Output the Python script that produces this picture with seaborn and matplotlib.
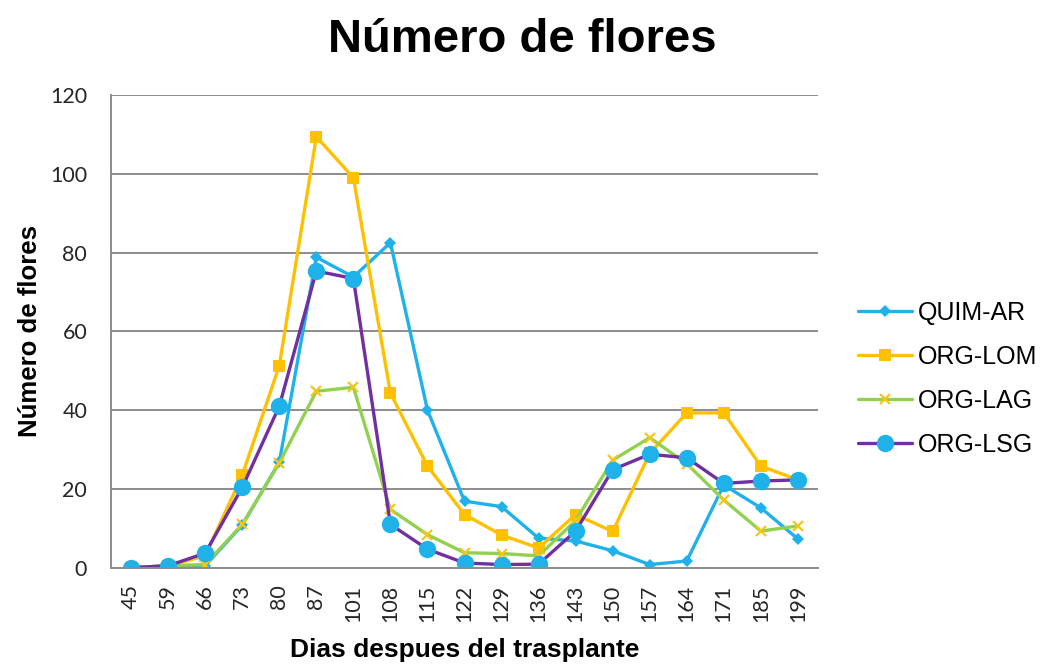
import matplotlib
matplotlib.use("Agg")
import matplotlib.pyplot as plt
import seaborn as sns
import pandas as pd

# Days after transplant (categorical x axis)
dias = ["45", "59", "66", "73", "80", "87", "101", "108", "115", "122",
        "129", "136", "143", "150", "157", "164", "171", "185", "199"]

quim_ar = [0, 0.5, 0.5, 10.8, 26.8, 78.8, 73.8, 82.5, 40, 16.9,
           15.5, 7.5, 6.8, 4.3, 0.8, 1.7, 21, 15.2, 7.3]
org_lom = [0, 0.5, 3, 23.5, 51.3, 109.4, 99, 44.3, 25.8, 13.5,
           8.3, 5, 13.5, 9.2, 29, 39.3, 39.3, 25.8, 22.3]
org_lag = [0, 0.5, 0.8, 11, 26.6, 44.8, 45.8, 14.8, 8.4, 3.8,
           3.6, 3, 12, 27.3, 33, 26.4, 17.2, 9.3, 10.6]
org_lsg = [0, 0.5, 3.7, 20.4, 41, 75.3, 73.4, 11, 4.7, 1.2,
           0.8, 0.9, 9.3, 24.9, 28.8, 27.9, 21.4, 22, 22.3]

df = pd.DataFrame({"dia": dias, "QUIM-AR": quim_ar, "ORG-LOM": org_lom,
                   "ORG-LAG": org_lag, "ORG-LSG": org_lsg})

sns.set_style("white")
plt.rcParams["font.family"] = ["Liberation Sans", "DejaVu Sans"]
plt.rcParams["text.color"] = "black"
plt.rcParams["axes.labelcolor"] = "black"

fig = plt.figure(figsize=(10.45, 6.64), dpi=100)
ax = fig.add_axes([0.106, 0.145, 0.677, 0.712])

lw = 2.4
sns.lineplot(data=df, x="dia", y="QUIM-AR", ax=ax, color="#1FB2EA", lw=lw,
             marker="D", markersize=6.5, markeredgewidth=0, label="QUIM-AR", sort=False)
sns.lineplot(data=df, x="dia", y="ORG-LOM", ax=ax, color="#FFC000", lw=lw,
             marker="s", markersize=8.5, markeredgewidth=0, label="ORG-LOM", sort=False)
sns.lineplot(data=df, x="dia", y="ORG-LAG", ax=ax, color="#92D050", lw=lw,
             marker="x", markersize=7.5, markeredgewidth=1.6, markeredgecolor="#F5C518",
             label="ORG-LAG", sort=False)
sns.lineplot(data=df, x="dia", y="ORG-LSG", ax=ax, color="#7030A0", lw=lw,
             marker="o", markersize=12.5, markerfacecolor="#1FB2EA",
             markeredgewidth=0, label="ORG-LSG", sort=False)

ax.set_ylim(0, 120)
ax.set_yticks(range(0, 121, 20))
ax.set_xlim(-0.55, len(dias) - 0.45)
ax.yaxis.grid(True, color="#8C8C8C", lw=1.4)
ax.set_axisbelow(True)
for s in ["top", "right"]:
    ax.spines[s].set_visible(False)
for s in ["bottom", "left"]:
    ax.spines[s].set_color("#8C8C8C")
    ax.spines[s].set_linewidth(1.4)
ax.tick_params(axis="y", length=8, width=1.4, color="#8C8C8C", labelcolor="#262626", pad=9)
ax.tick_params(axis="x", length=0, pad=12, rotation=90, labelcolor="#262626")
for t in ax.get_xticklabels() + ax.get_yticklabels():
    t.set_fontfamily(["Lato", "DejaVu Sans"])
    t.set_fontsize(15.5)

fig.text(0.5, 1 - 52 / 664, "Número de flores", fontsize=34, fontweight="bold",
         ha="center", va="baseline")
ax.set_ylabel("Número de flores", fontsize=18.5, fontweight="bold", labelpad=6)
ax.set_xlabel("Dias despues del trasplante", fontsize=19, fontweight="bold", labelpad=12)

ax.legend(loc="center left", bbox_to_anchor=(1.056, 0.40), frameon=False,
          fontsize=18, handlelength=2.15, labelspacing=0.8, handletextpad=0.25,
          borderaxespad=0, borderpad=0)

fig.savefig("out.png", dpi=100)
